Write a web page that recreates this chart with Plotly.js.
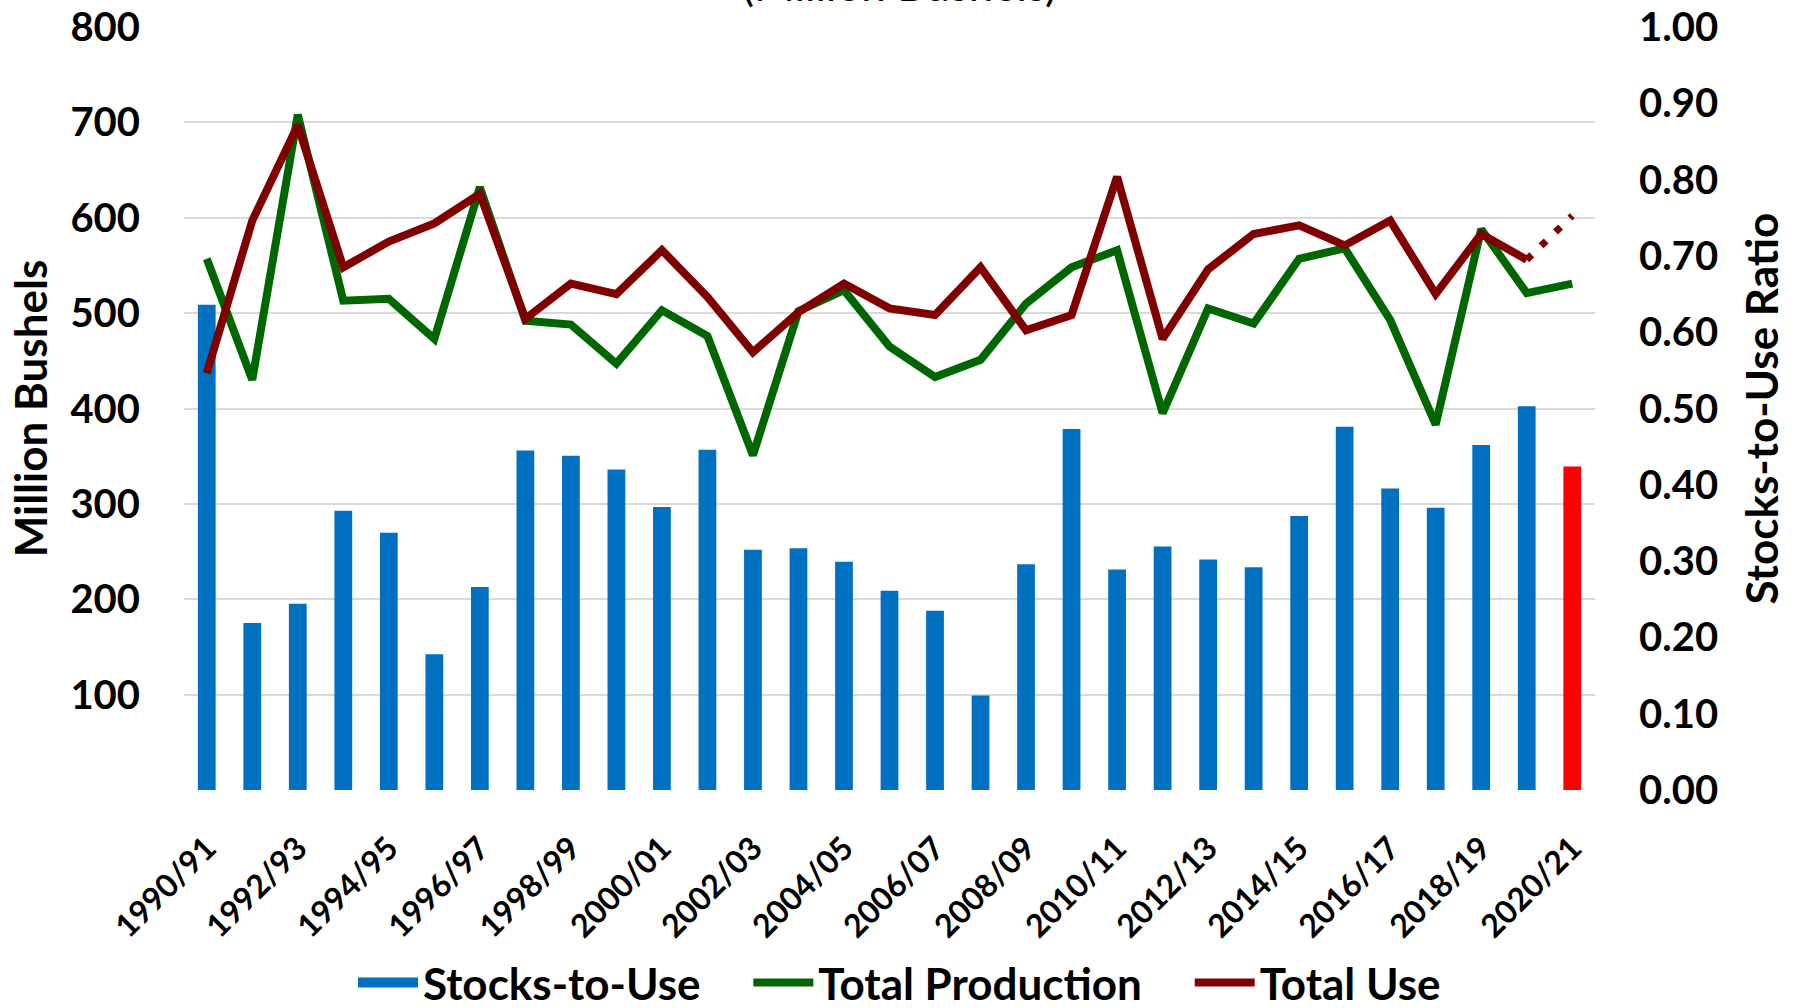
<!DOCTYPE html>
<html>
<head>
<meta charset="utf-8">
<script src="https://cdn.plot.ly/plotly-3.0.1.min.js"></script>
<style>
  html, body { margin: 0; padding: 0; background: #ffffff; }
  #chart { width: 1799px; height: 1008px; }
</style>
</head>
<body>
<div id="chart"></div>
<script>
const years = ['1990/91','1991/92','1992/93','1993/94','1994/95','1995/96','1996/97','1997/98','1998/99','1999/00',
  '2000/01','2001/02','2002/03','2003/04','2004/05','2005/06','2006/07','2007/08','2008/09','2009/10',
  '2010/11','2011/12','2012/13','2013/14','2014/15','2015/16','2016/17','2017/18','2018/19','2019/20','2020/21'];

const tickLabels = ['1990/91','1992/93','1994/95','1996/97','1998/99','2000/01','2002/03','2004/05',
  '2006/07','2008/09','2010/11','2012/13','2014/15','2016/17','2018/19','2020/21'];

// Stocks-to-use ratio (right axis)
const stocksToUse = [0.636,0.219,0.244,0.366,0.337,0.178,0.266,0.445,0.438,0.420,
  0.371,0.446,0.315,0.317,0.299,0.261,0.235,0.124,0.296,0.473,
  0.289,0.319,0.302,0.292,0.359,0.476,0.395,0.370,0.452,0.503,0.424];

// Total production, million bushels (left axis)
const totalProduction = [557,430,708,513,515,473,632,492,488,447,
  503,476,351,502,524,465,433,451,510,548,
  566,395,505,489,557,568,493,383,588,521,531];

// Total use, million bushels, 1990/91 - 2019/20 (solid)
const totalUse = [437,597,697,548,575,594,625,494,531,520,
  566,517,459,501,531,505,498,548,482,498,
  643,473,546,583,592,571,597,520,583,556];
// Projected total use 2020/21 (dotted)
const totalUseProjected = 602;

const bushelTicks = [0,100,200,300,400,500,600,700,800];
const bushelTickText = ['','100','200','300','400','500','600','700','800'];
const ratioTicks = [0,0.1,0.2,0.3,0.4,0.5,0.6,0.7,0.8,0.9,1.0];
const ratioTickText = ['0.00','0.10','0.20','0.30','0.40','0.50','0.60','0.70','0.80','0.90','1.00'];

const BLUE = '#0070C0', RED = '#FF0000', GREEN = '#006600', MAROON = '#800000';
const barColors = years.map((y, i) => i === years.length - 1 ? RED : BLUE);

const FONT = 'Lato, "Open Sans", "DejaVu Sans", sans-serif';
const PAD = '\u00A0\u00A0\u00A0\u00A0';

const traces = [
  {
    type: 'bar', name: 'Stocks-to-Use', showlegend: false, x: years, y: stocksToUse, yaxis: 'y',
    marker: { color: barColors, line: { width: 0 } }
  },
  {
    // legend key for the bars (a filled box like the original legend)
    type: 'scatter', mode: 'lines', name: 'Stocks-to-Use' + PAD, x: [null], y: [null], yaxis: 'y',
    line: { color: BLUE, width: 27 }, hoverinfo: 'skip'
  },
  {
    type: 'scatter', mode: 'lines', name: 'Total Production' + PAD, x: years, y: totalProduction, yaxis: 'y2',
    line: { color: GREEN, width: 8 }
  },
  {
    type: 'scatter', mode: 'lines', name: 'Total Use', x: years.slice(0, totalUse.length), y: totalUse, yaxis: 'y2',
    line: { color: MAROON, width: 8 }
  },
  {
    type: 'scatter', mode: 'lines', name: 'Total Use (projected)', showlegend: false,
    x: [years[totalUse.length - 1], years[totalUse.length]],
    y: [totalUse[totalUse.length - 1], totalUseProjected], yaxis: 'y2',
    line: { color: MAROON, width: 7, dash: '7px,13px' }
  }
];

const layout = {
  width: 1799, height: 1008,
  margin: { l: 184, r: 204, t: 27, b: 218 },
  paper_bgcolor: '#ffffff', plot_bgcolor: '#ffffff',
  font: { family: FONT, color: '#000000' },
  title: {
    text: '(Million Bushels)',
    font: { family: FONT, size: 44, weight: 400, color: '#000000' },
    x: 0.5, xref: 'container', xanchor: 'center',
    y: 0.999, yref: 'container', yanchor: 'bottom'
  },
  bargap: 0.61,
  showlegend: true,
  legend: {
    orientation: 'h', traceorder: 'normal',
    x: 0.5, xref: 'container', xanchor: 'center',
    y: 0.025, yref: 'container', yanchor: 'middle',
    font: { family: FONT, size: 44, weight: 700, color: '#000000' },
    itemwidth: 60
  },
  xaxis: {
    type: 'category', range: [-0.5, years.length - 0.5],
    tickmode: 'array', tickvals: tickLabels, ticktext: tickLabels,
    tickangle: -45, tickfont: { family: FONT, size: 32, weight: 700, color: '#000000' },
    showgrid: false, zeroline: false, showline: false, ticks: '',
    ticklabelstandoff: 32
  },
  yaxis: {
    side: 'right', range: [0, 1],
    tickmode: 'array', tickvals: ratioTicks, ticktext: ratioTickText,
    showgrid: false, zeroline: false, showline: false, ticks: '',
    tickfont: { family: FONT, size: 40, weight: 700, color: '#000000' },
    ticklabelstandoff: 43,
    title: { text: 'Stocks-to-Use Ratio', font: { family: FONT, size: 44, weight: 700, color: '#000000' }, standoff: 30 }
  },
  yaxis2: {
    overlaying: 'y', side: 'left', range: [0, 800],
    tickmode: 'array', tickvals: bushelTicks, ticktext: bushelTickText,
    showgrid: true, gridcolor: '#d9d9d9', gridwidth: 2,
    zeroline: false, showline: false, ticks: '',
    tickfont: { family: FONT, size: 40, weight: 700, color: '#000000' },
    ticklabelstandoff: 43,
    title: { text: 'Million Bushels', font: { family: FONT, size: 44, weight: 700, color: '#000000' }, standoff: 8 }
  }
};

Plotly.newPlot('chart', traces, layout, { displayModeBar: false, staticPlot: true });
</script>
</body>
</html>
